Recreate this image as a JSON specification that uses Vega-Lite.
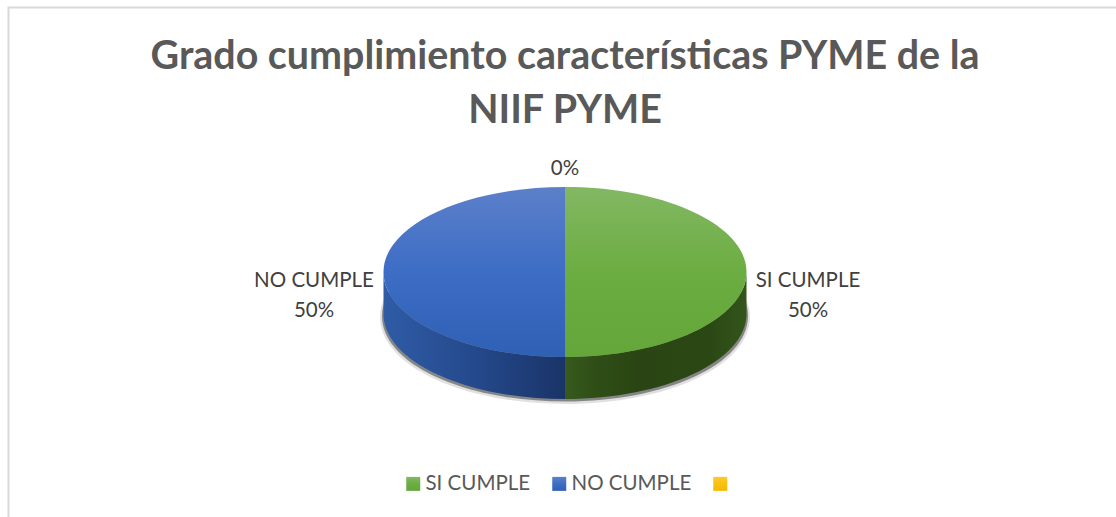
{
"$schema":"https://vega.github.io/schema/vega-lite/v6.json",
"width":1113,"height":529,
"autosize":{"type":"none"},
"padding":{"left":8.5,"top":7.5,"right":0,"bottom":0},
"background":"#ffffff",
"config":{"view":{"stroke":"#d9d9d9","strokeWidth":2},"font":"Lato"},
"title":{"text":["Grado cumplimiento características PYME de la","NIIF PYME"],"anchor":"middle","orient":"top","offset":0,"dy":124,"font":"Lato","fontSize":39.4,"fontWeight":"bold","color":"#595959","lineHeight":54},
"data":{"values":[
{"categoria":"SI CUMPLE","valor":50,"etiqueta":"SI CUMPLE\n50%"},
{"categoria":"NO CUMPLE","valor":50,"etiqueta":"NO CUMPLE\n50%"},
{"categoria":" ","valor":0,"etiqueta":"0%"}
]},
"layer":[
{"transform":[{"filter":"datum.valor>0 && datum.categoria=='SI CUMPLE'"}],
 "mark":{"type":"point","filled":true,"size":4,"opacity":0.12,"fill":"#000000","stroke":null,"shape":"M0,-45 C102,-45 185,-4 185,45 C185,94 102,132 0,132 C-102,132 -185,94 -185,45 C-185,-4 -102,-45 0,-45 Z"}},
{"transform":[{"filter":"datum.valor>0 && datum.categoria=='SI CUMPLE'"}],
 "mark":{"type":"point","filled":true,"size":4,"opacity":0.4,"fill":"#000000","stroke":null,"shape":"M0,-43 C101,-43 183,-3 183,44 C183,92 101,129.5 0,129.5 C-101,129.5 -183,92 -183,44 C-183,-3 -101,-43 0,-43 Z"}},
{"transform":[{"filter":"datum.categoria=='SI CUMPLE'"}],
 "mark":{"type":"point","filled":true,"size":4,"opacity":1,"stroke":null,"fill":{"gradient":"linear","x1":0,"y1":0,"x2":1,"y2":0,"stops":[{"offset":0,"color":"#375a1e"},{"offset":0.15,"color":"#2f4f17"},{"offset":0.4,"color":"#2a4513"},{"offset":0.8,"color":"#2b4814"},{"offset":1,"color":"#33561b"}]},
 "shape":"M181.5,0 L181.5,42 C181.5,88.9 100.2,127 0,127 L0,85 C100.2,85 181.5,46.9 181.5,0 Z"}},
{"transform":[{"filter":"datum.categoria=='NO CUMPLE'"}],
 "mark":{"type":"point","filled":true,"size":4,"opacity":1,"stroke":null,"fill":{"gradient":"linear","x1":0,"y1":0,"x2":1,"y2":0,"stops":[{"offset":0,"color":"#2f5ca6"},{"offset":0.5,"color":"#24498c"},{"offset":1,"color":"#1a3468"}]},
 "shape":"M-181.5,0 L-181.5,42 C-181.5,88.9 -100.2,127 0,127 L0,85 C-100.2,85 -181.5,46.9 -181.5,0 Z"}},
{"mark":{"type":"point","filled":true,"size":4,"opacity":1,"stroke":null},
 "encoding":{
  "shape":{"field":"categoria","type":"nominal","legend":null,"scale":{"domain":["SI CUMPLE","NO CUMPLE"," "],"range":[
    "M0,-85 C100.2,-85 181.5,-46.9 181.5,0 C181.5,46.9 100.2,85 0,85 Z",
    "M0,-85 C-100.2,-85 -181.5,-46.9 -181.5,0 C-181.5,46.9 -100.2,85 0,85 Z",
    "M0,0 Z"]}},
  "fill":{"field":"categoria","type":"nominal",
   "scale":{"domain":["SI CUMPLE","NO CUMPLE"," "],"range":[
    {"expr":"{gradient:'linear',x1:0,y1:0,x2:0,y2:1,stops:[{offset:0,color:'#83b863'},{offset:0.5,color:'#6cad42'},{offset:1,color:'#65a63a'}]}"},
    {"expr":"{gradient:'linear',x1:0,y1:0,x2:0,y2:1,stops:[{offset:0,color:'#5c80ca'},{offset:0.5,color:'#3d6dc5'},{offset:1,color:'#2e60b5'}]}"},
    {"expr":"{gradient:'linear',x1:0,y1:0,x2:0,y2:1,stops:[{offset:0,color:'#ffc926'},{offset:1,color:'#f4b800'}]}"}]},
   "legend":{"title":null,"orient":"none","legendX":394.5,"legendY":466,"direction":"horizontal","columns":3,"symbolType":"square","symbolSize":196,"labelFont":"Lato","labelFontSize":20.5,"labelColor":"#595959","labelOffset":2,"columnPadding":18,"labelLimit":300}}
 }},
{"transform":[{"filter":"datum.valor>0"}],
 "mark":{"type":"text","font":"Lato","fontSize":20.5,"color":"#404040","lineBreak":"\n","lineHeight":30,"align":"center","baseline":"middle","dy":9},
 "encoding":{
  "x":{"field":"categoria","type":"nominal","axis":null,"scale":{"domain":["NO CUMPLE","SI CUMPLE"],"range":[305.5,799.5],"padding":0}},
  "text":{"field":"etiqueta"}}},
{"transform":[{"filter":"datum.valor==0"}],
 "mark":{"type":"text","font":"Lato","fontSize":20.5,"color":"#404040","align":"center","baseline":"middle","dy":-103},
 "encoding":{"text":{"field":"etiqueta"}}}
],
"resolve":{"legend":{"fill":"independent"}}
}
